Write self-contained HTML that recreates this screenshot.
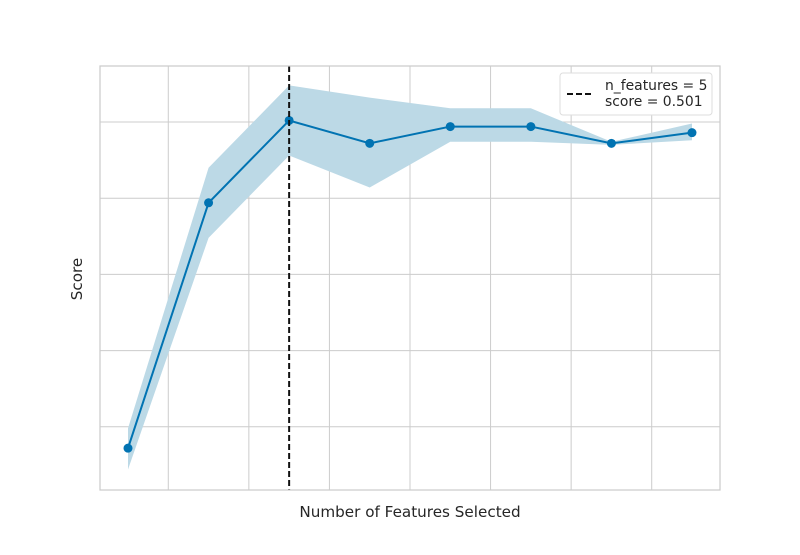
<!DOCTYPE html>
<html><head><meta charset="utf-8"><style>
body{margin:0;background:#fff;font-family:"Liberation Sans","DejaVu Sans",sans-serif;}
svg text{font-family:"DejaVu Sans","Liberation Sans",sans-serif;fill:#262626;}
</style></head><body>
<svg id="chart" width="800" height="550"></svg>
<script>
const features=[3,4,5,6,7,8,9,10];
const scores=[0.286,0.447,0.501,0.486,0.497,0.497,0.486,0.493];
const upper=[0.299,0.470,0.524,0.516,0.509,0.509,0.487,0.499];
const lower=[0.272,0.424,0.478,0.457,0.487,0.487,0.485,0.488];
const xGrid=[3.5,4.5,5.5,6.5,7.5,8.5,9.5];
const yGrid=[0.30,0.35,0.40,0.45,0.50];
const bestN=5, bestScore=0.501;

const L=100,R=720,T=66,B=490;
const sx=v=>128+(v-3)*80.57;
const sy=v=>122-(v-0.5)/0.05*76.2;
const svg=document.getElementById('chart');
const NS='http://www.w3.org/2000/svg';
function mk(tag,attrs,parent){const e=document.createElementNS(NS,tag);for(const k in attrs)e.setAttribute(k,attrs[k]);(parent||svg).appendChild(e);return e;}

let e=mk('rect',{x:L,y:T,width:R-L,height:B-T,fill:'#fff'});


xGrid.forEach(v=>{const g=mk('line',{x1:sx(v),x2:sx(v),y1:T,y2:B,stroke:'#cccccc','stroke-width':1});

});
yGrid.forEach(v=>{const g=mk('line',{x1:L,x2:R,y1:sy(v),y2:sy(v),stroke:'#cccccc','stroke-width':1});

});

let pts=features.map((f,i)=>sx(f)+','+sy(upper[i])).concat(features.map((f,i)=>sx(f)+','+sy(lower[i])).reverse());
e=mk('polygon',{points:pts.join(' '),fill:'#bcd9e6'});



e=mk('polyline',{points:features.map((f,i)=>sx(f)+','+sy(scores[i])).join(' '),fill:'none',stroke:'#0173b2','stroke-width':2});


features.forEach((f,i)=>{const c=mk('circle',{cx:sx(f),cy:sy(scores[i]),r:4.5,fill:'#0173b2'});

});

e=mk('line',{x1:sx(bestN),x2:sx(bestN),y1:T,y2:B,stroke:'#111','stroke-width':2,'stroke-dasharray':'6,3'});



e=mk('rect',{x:L,y:T,width:R-L,height:B-T,fill:'none',stroke:'#cccccc','stroke-width':1.25});



const lg=mk('g',{});


mk('rect',{x:560,y:73,width:152,height:42,rx:3,fill:'#fff',stroke:'#dddddd'},lg);
mk('line',{x1:567,x2:594,y1:94,y2:94,stroke:'#111','stroke-width':2,'stroke-dasharray':'6,3'},lg);
let t=mk('text',{x:605,y:90,'font-size':13.9},lg);t.textContent='n_features = '+bestN;
t=mk('text',{x:605,y:106,'font-size':13.9},lg);t.textContent='score = '+bestScore.toFixed(3);

t=mk('text',{x:410,y:517,'font-size':15.2,'text-anchor':'middle'});t.textContent='Number of Features Selected';


t=mk('text',{x:82,y:279,'font-size':15.2,'text-anchor':'middle',transform:'rotate(-90 82 279)'});t.textContent='Score';


</script>
</body></html>
